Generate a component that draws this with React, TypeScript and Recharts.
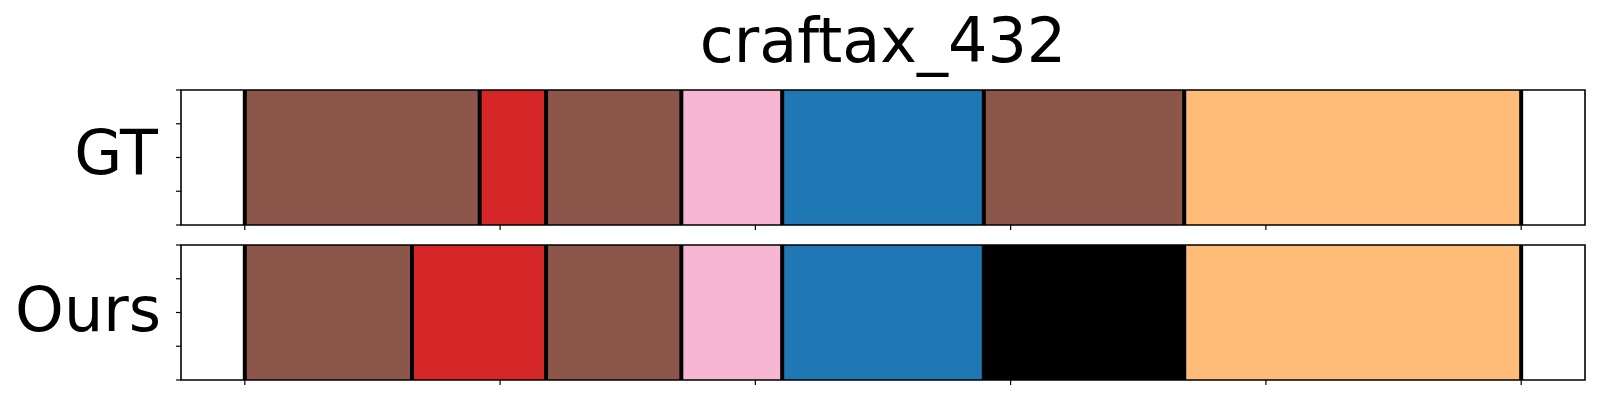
import { ComposedChart, Line, ReferenceArea, ReferenceLine, XAxis, YAxis } from "recharts";

// segment boundaries (time, 0..100) and segment colours for each row
const gtBounds = [0, 18.4, 23.6, 34.2, 42.1, 57.9, 73.6, 100];
const gtColors = ["#8c564b", "#d62728", "#8c564b", "#f7b6d2", "#1f77b4", "#8c564b", "#ffbb78"];

const oursBounds = [0, 13.1, 23.6, 34.2, 42.1, 57.9, 73.6, 100];
const oursColors = ["#8c564b", "#d62728", "#8c564b", "#f7b6d2", "#1f77b4", "#000000", "#ffbb78"];

const xTicks = [0, 20, 40, 60, 80, 100];
const yTicks = [0, 0.25, 0.5, 0.75, 1];
const xDomain: [number, number] = [-5, 105];
const yDomain: [number, number] = [0, 1];

const title = "craftax_432";
const rowLabels = ["GT", "Ours"];

const FONT = "DejaVu Sans, sans-serif";

const NoLabel = () => <g />;

function SegmentRow({ bounds, colors }: { bounds: number[]; colors: string[] }) {
  // two invisible anchor points so the axes have something to scale
  const rows = [
    { t: bounds[0], y: yDomain[0] },
    { t: bounds[bounds.length - 1], y: yDomain[1] },
  ];
  return (
    <ComposedChart
      width={1600}
      height={240}
      data={rows}
      margin={{ top: 90, right: 15, left: 161, bottom: 5 }}
    >
      <XAxis
        dataKey="t"
        type="number"
        domain={xDomain}
        ticks={xTicks}
        tick={NoLabel}
        tickSize={5}
        height={10}
        axisLine={false}
        tickLine={{ stroke: "#000", strokeWidth: 1.2 }}
      />
      <YAxis
        type="number"
        domain={yDomain}
        ticks={yTicks}
        tick={NoLabel}
        tickSize={5}
        width={20}
        axisLine={false}
        tickLine={{ stroke: "#000", strokeWidth: 1.2 }}
      />
      <Line dataKey="y" stroke="none" dot={false} activeDot={false} isAnimationActive={false} />
      {colors.map((c, i) => (
        <ReferenceArea
          key={`seg-${i}`}
          x1={bounds[i]}
          x2={bounds[i + 1]}
          y1={yDomain[0]}
          y2={yDomain[1]}
          fill={c}
          fillOpacity={1}
          stroke="none"
        />
      ))}
      {bounds.map((b, i) => (
        <ReferenceLine key={`b-${i}`} x={b} stroke="#000" strokeWidth={4} />
      ))}
      <ReferenceArea
        x1={xDomain[0]}
        x2={xDomain[1]}
        y1={yDomain[0]}
        y2={yDomain[1]}
        fill="none"
        stroke="#000"
        strokeOpacity={1}
        strokeWidth={1.6}
      />
    </ComposedChart>
  );
}

export default function App() {
  return (
    <div style={{ position: "absolute", left: 0, top: 0, width: 1600, height: 400, background: "#fff" }}>
      <div style={{ position: "absolute", left: 0, top: 0 }}>
        <SegmentRow bounds={gtBounds} colors={gtColors} />
      </div>
      <div style={{ position: "absolute", left: 0, top: 155 }}>
        <SegmentRow bounds={oursBounds} colors={oursColors} />
      </div>
      <svg
        width={1600}
        height={400}
        style={{ position: "absolute", left: 0, top: 0, pointerEvents: "none" }}
      >
        <text x={883} y={62} textAnchor="middle" fontFamily={FONT} fontSize={62} fill="#000">
          {title}
        </text>
        <text x={158} y={174} textAnchor="end" fontFamily={FONT} fontSize={62} fill="#000">
          {rowLabels[0]}
        </text>
        <text x={161} y={331} textAnchor="end" fontFamily={FONT} fontSize={62} fill="#000">
          {rowLabels[1]}
        </text>
      </svg>
    </div>
  );
}
